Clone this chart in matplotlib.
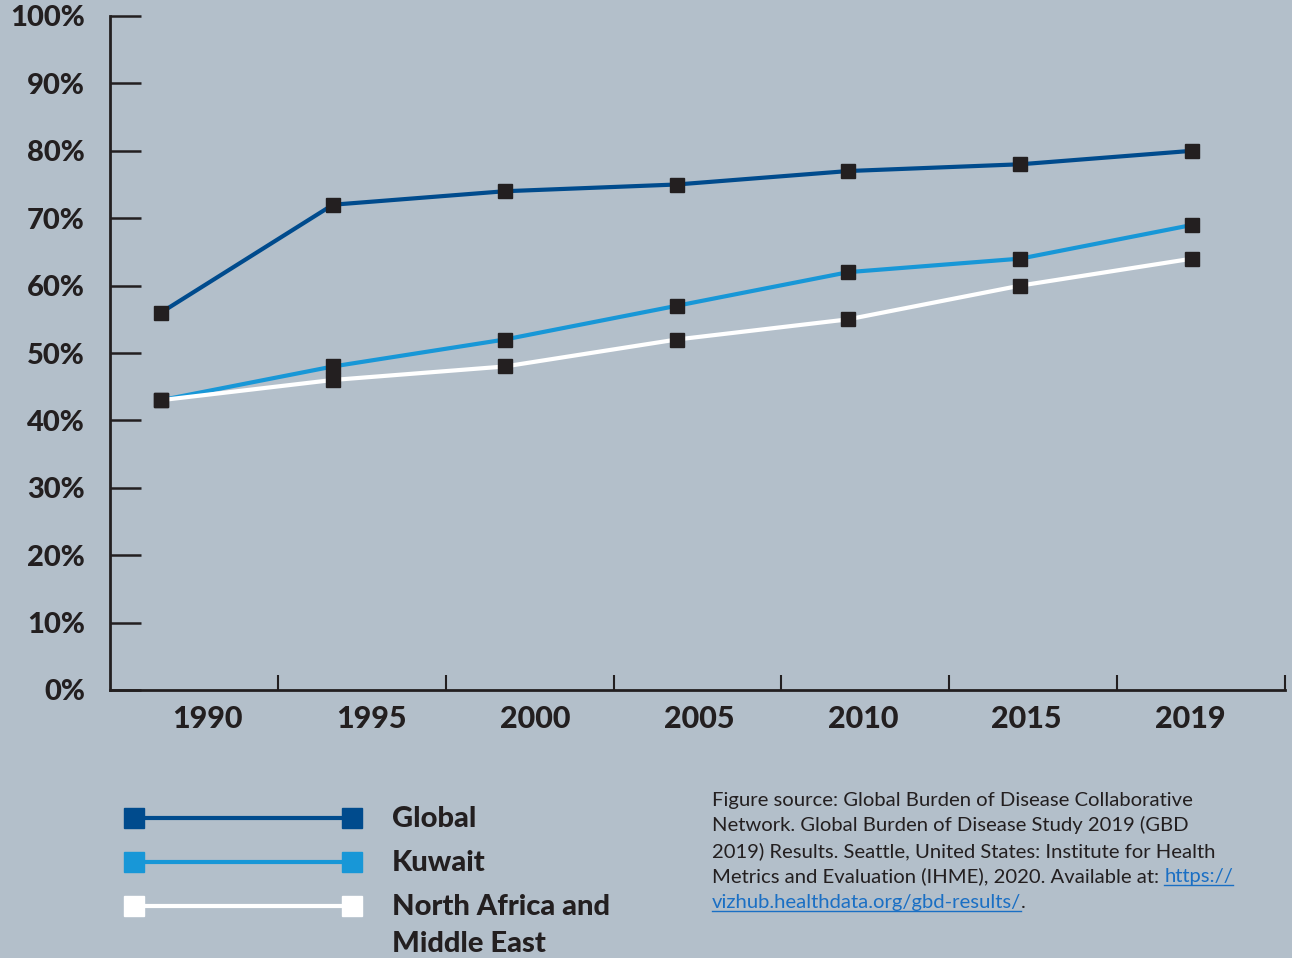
import numpy as np
import matplotlib
matplotlib.use("Agg")
import matplotlib.pyplot as plt
from matplotlib.lines import Line2D

years = ["1990", "1995", "2000", "2005", "2010", "2015", "2019"]
global_vals = [56, 72, 74, 75, 77, 78, 80]
kuwait_vals = [43, 48, 52, 57, 62, 64, 69]
mena_vals = [43, 46, 48, 52, 55, 60, 64]
y_ticks = [0, 10, 20, 30, 40, 50, 60, 70, 80, 90, 100]

series_names = ["Global", "Kuwait", "North Africa and\nMiddle East"]
series_colors = ["#004b8d", "#1897d7", "#ffffff"]
series_vals = [global_vals, kuwait_vals, mena_vals]

source_lines = [
    "Figure source: Global Burden of Disease Collaborative",
    "Network. Global Burden of Disease Study 2019 (GBD",
    "2019) Results. Seattle, United States: Institute for Health",
    "Metrics and Evaluation (IHME), 2020. Available at: ",
]
link_parts = ["https://", "vizhub.healthdata.org/gbd-results/"]

BG = "#b3bfca"
INK = "#231f20"
LINK = "#1a6fc4"
W, H = 1292, 958

plt.rcParams["font.family"] = ["Lato", "DejaVu Sans"]

fig = plt.figure(figsize=(W / 100, H / 100), dpi=100, facecolor=BG)
ax = fig.add_axes([110 / W, 1 - 690 / H, 1175 / W, 674 / H], facecolor=BG)

x = np.arange(len(years))
for vals, color in zip(series_vals, series_colors):
    ax.plot(x, vals, color=color, linewidth=3, zorder=3, solid_capstyle="butt")
for vals in series_vals:
    ax.plot(x, vals, linestyle="none", marker="s", markersize=10.5,
            color=INK, zorder=5)

# categorical layout: 7 equal bins for the tick marks, labels nudged toward the points
x0, x1 = -0.297, 6.54
ax.set_xlim(x0, x1)
ax.set_ylim(0, 100)
bw = (x1 - x0) / len(years)
ax.set_xticks([x0 + bw * (i + 1) for i in range(len(years))])
ax.set_xticklabels([])
ax.set_xticks(np.linspace(0.27, 5.99, len(years)), minor=True)
ax.set_xticklabels(years, minor=True)
ax.tick_params(axis="x", which="major", direction="in", length=11, width=1.5, color=INK)
ax.tick_params(axis="x", which="minor", length=0, pad=11, labelsize=22, labelcolor=INK)
for lab in ax.get_xticklabels(minor=True):
    lab.set_fontweight("black")

ax.set_yticks(y_ticks)
ax.set_yticklabels([f"{v}%" for v in y_ticks])
ax.tick_params(axis="y", direction="in", length=22, width=1.8, color=INK,
               pad=18, labelsize=21, labelcolor=INK)
for lab in ax.get_yticklabels():
    lab.set_fontweight("black")

for side in ["top", "right"]:
    ax.spines[side].set_visible(False)
for side in ["left", "bottom"]:
    ax.spines[side].set_linewidth(2)
    ax.spines[side].set_color(INK)


def fx(px):
    return px / W


def fy(py):
    return 1 - py / H


# legend, drawn by hand: coloured squares at both ends of each sample line
legend_rows = [818, 862, 906]
for name, color, row in zip(series_names, series_colors, legend_rows):
    fig.add_artist(Line2D([fx(134), fx(352)], [fy(row), fy(row)], color=color,
                          linewidth=3, marker="s", markersize=14,
                          transform=fig.transFigure))
    fig.text(fx(392), fy(row - 12), name, ha="left", va="top", fontsize=21,
             fontweight="black", color=INK, linespacing=1.5)

# source note, one line at a time so the link can follow the last line
renderer = fig.canvas.get_renderer()
baselines = [806, 831, 857, 882, 908]
FS = 14.6
last = None
for line, base in zip(source_lines, baselines):
    last = fig.text(fx(712), fy(base), line, ha="left", va="baseline",
                    fontsize=FS, color=INK)


def underline(t):
    bb = t.get_window_extent(renderer)
    fig.add_artist(Line2D([bb.x0 / W, bb.x1 / W], [bb.y0 / H, bb.y0 / H],
                          color=LINK, linewidth=1, transform=fig.transFigure))


lb = last.get_window_extent(renderer)
t1 = fig.text(lb.x1 / W, fy(baselines[3]), link_parts[0], ha="left",
              va="baseline", color=LINK, fontsize=FS)
t2 = fig.text(fx(712), fy(baselines[4]), link_parts[1], ha="left",
              va="baseline", color=LINK, fontsize=FS)
underline(t1)
underline(t2)
bb2 = t2.get_window_extent(renderer)
fig.text(bb2.x1 / W, fy(baselines[4]), ".", ha="left", va="baseline",
         color=INK, fontsize=FS)

fig.savefig("out.png", dpi=100, facecolor=BG)
